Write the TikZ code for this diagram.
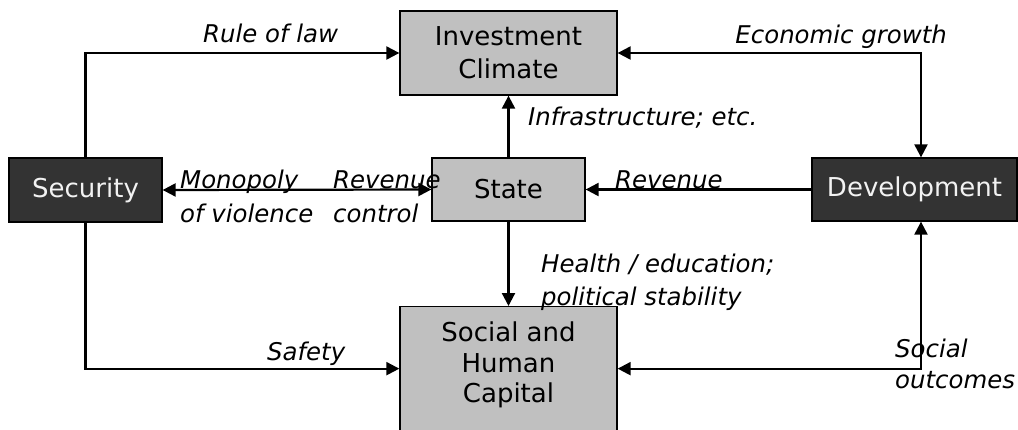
\documentclass[tikz,border=0pt]{standalone}
\usepackage{fontspec}
\setmainfont{DejaVu Sans}
\usetikzlibrary{arrows.meta}
\definecolor{boxgrey}{HTML}{C0C0C0}
\definecolor{boxdark}{HTML}{333333}
\definecolor{boxtext}{HTML}{F2F2F2}
\begin{document}
\begin{tikzpicture}[x=1pt,y=-1pt,
  tip/.tip={Triangle[length=13pt,width=13pt]},
  conn/.style={line width=2.2pt,-tip},
  conntwo/.style={line width=2.2pt,tip-tip},
  boxbase/.style={draw=black,line width=1.3pt,inner sep=0pt,align=center,
    font=\fontsize{26}{33}\selectfont},
  greybox/.style={boxbase,fill=boxgrey,text=black},
  darkbox/.style={boxbase,fill=boxdark,text=boxtext},
  lbl/.style={inner sep=0pt,anchor=base west,align=left,
    font=\fontsize{24.4}{33}\selectfont\itshape}]
\clip (0,0) rectangle (1018,429);
\fill[white] (0,0) rectangle (1018,429);
% nodes
\node[greybox,minimum width=217pt,minimum height=84pt] (ic) at (508.5,53) {Investment\\Climate};
\node[darkbox,minimum width=153pt,minimum height=64pt] (sec) at (85.5,190) {Security};
\node[greybox,minimum width=153pt,minimum height=63pt] (state) at (508.5,189.5) {State};
\node[darkbox,minimum width=205pt,minimum height=63pt] (dev) at (914.5,189.5) {Development};
\node[greybox,minimum width=217pt,minimum height=124pt,anchor=north,
  label={[anchor=north,inner sep=0pt,yshift=-16pt,align=center,
    font=\fontsize{26}{30.5}\selectfont]north:Social and\\Human\\Capital}] (shc) at (508.5,306) {};
\coordinate (rcol) at (921,0);
% connectors
\draw[conn] (sec.north) |- (ic.west);
\draw[conn] (sec.south) |- (shc.west);
\draw[conntwo] (sec.east) -- (state.west);
\draw[conn] (state.north) -- (ic.south);
\draw[conn] (state.south) -- (shc.north);
\draw[conn] (dev.west) -- (state.east);
\draw[conntwo] (ic.east) -| (dev.north -| rcol);
\draw[conntwo] (shc.east) -| (dev.south -| rcol);
% labels
\node[lbl] (l1) at (203,42) {Rule of law};
\node[lbl,anchor=base east] (l2) at (947,43) {Economic growth};
\node[lbl] (l3) at (528,125) {Infrastructure; etc.};
\node[lbl,font=\fontsize{24.4}{34}\selectfont\itshape] (l4) at (180,222) {Monopoly\\of violence};
\node[lbl,font=\fontsize{24.4}{34}\selectfont\itshape] (l5) at (333,222) {Revenue\\control};
\node[lbl] (l6) at (615,188) {Revenue};
\node[lbl] (l7) at (541,305) {Health / education;\\political stability};
\node[lbl] (l8) at (267,360) {Safety};
\node[lbl,font=\fontsize{24.4}{31}\selectfont\itshape] (l9) at (895,388) {Social\\outcomes};
\end{tikzpicture}
\end{document}
